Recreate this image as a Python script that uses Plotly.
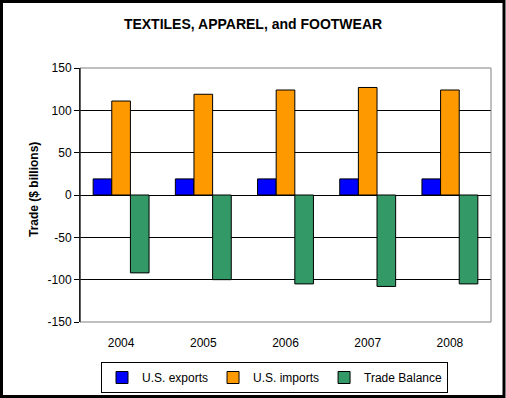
import plotly.graph_objects as go

years = ["2004", "2005", "2006", "2007", "2008"]
us_exports = [19, 19, 19, 19, 19]
us_imports = [111, 119, 124, 127, 124]
trade_balance = [-92, -100, -105, -108, -105]
y_ticks = [-150, -100, -50, 0, 50, 100, 150]
y_tick_labels = ["-150", "-100", "-50", "0", "50", "100", "150"]

FONT = "Liberation Sans, Arial, sans-serif"

fig = go.Figure()
for name, vals, col in [("U.S. exports", us_exports, "#0000FF"),
                        ("U.S. imports", us_imports, "#FF9900"),
                        ("Trade Balance", trade_balance, "#339966")]:
    fig.add_trace(go.Bar(x=years, y=vals, name=name,
                         marker=dict(color=col, line=dict(color="black", width=1))))

L, R, T, B = 80, 15, 68, 76
W, H = 506, 398
pw, ph = W - L - R, H - T - B

def px_x(p):
    return (p - L) / pw

def px_y(p):
    return (H - B - p) / ph

fig.update_layout(
    width=W, height=H,
    margin=dict(l=L, r=R, t=T, b=B, pad=0, autoexpand=False),
    paper_bgcolor="white", plot_bgcolor="white",
    barmode="group", bargap=0.32, bargroupgap=0,
    font=dict(family=FONT, size=12, color="black"),
    title=dict(text="<b>TEXTILES, APPAREL, and FOOTWEAR</b>", x=0.5, xref="container",
               y=1 - 24 / H, yref="container", yanchor="middle", xanchor="center",
               font=dict(family=FONT, size=14, color="black")),
    showlegend=True,
    legend=dict(orientation="h", x=px_x(101), y=px_y(362), xanchor="left", yanchor="top",
                bordercolor="black", borderwidth=1, bgcolor="white",
                font=dict(family=FONT, size=12), itemwidth=30, tracegroupgap=0),
    xaxis=dict(showline=False, ticks="", showgrid=False, ticklabelstandoff=12,
               automargin=False, tickfont=dict(family=FONT, size=12)),
    yaxis=dict(range=[-150, 150], tickvals=y_ticks, ticktext=y_tick_labels,
               showgrid=True, gridcolor="black", automargin=False,
               gridwidth=1, zeroline=True, zerolinecolor="black", zerolinewidth=1,
               showline=True, linecolor="black", linewidth=1, ticks="outside",
               ticklen=5, tickcolor="black", tickfont=dict(family=FONT, size=12)),
    shapes=[
        dict(type="rect", xref="paper", yref="paper", x0=0, x1=1, y0=0, y1=1,
             line=dict(color="#808080", width=1), layer="above"),
        dict(type="line", xref="paper", yref="paper", x0=0, x1=0, y0=0, y1=1,
             line=dict(color="black", width=1), layer="above"),
        dict(type="rect", xref="paper", yref="paper", x0=px_x(1.5), x1=px_x(504),
             y0=px_y(396.5), y1=px_y(1.5), line=dict(color="black", width=3), layer="above"),
    ],
    annotations=[
        dict(text="<b>Trade ($ billions)</b>", xref="paper", yref="paper",
             x=px_x(34), y=px_y(190), textangle=-90, showarrow=False,
             xanchor="center", yanchor="middle", font=dict(family=FONT, size=12)),
    ],
)

fig.write_html("out.html", config={"displayModeBar": False},
               post_script="document.body.style.margin='0px';document.body.style.overflow='hidden';")
